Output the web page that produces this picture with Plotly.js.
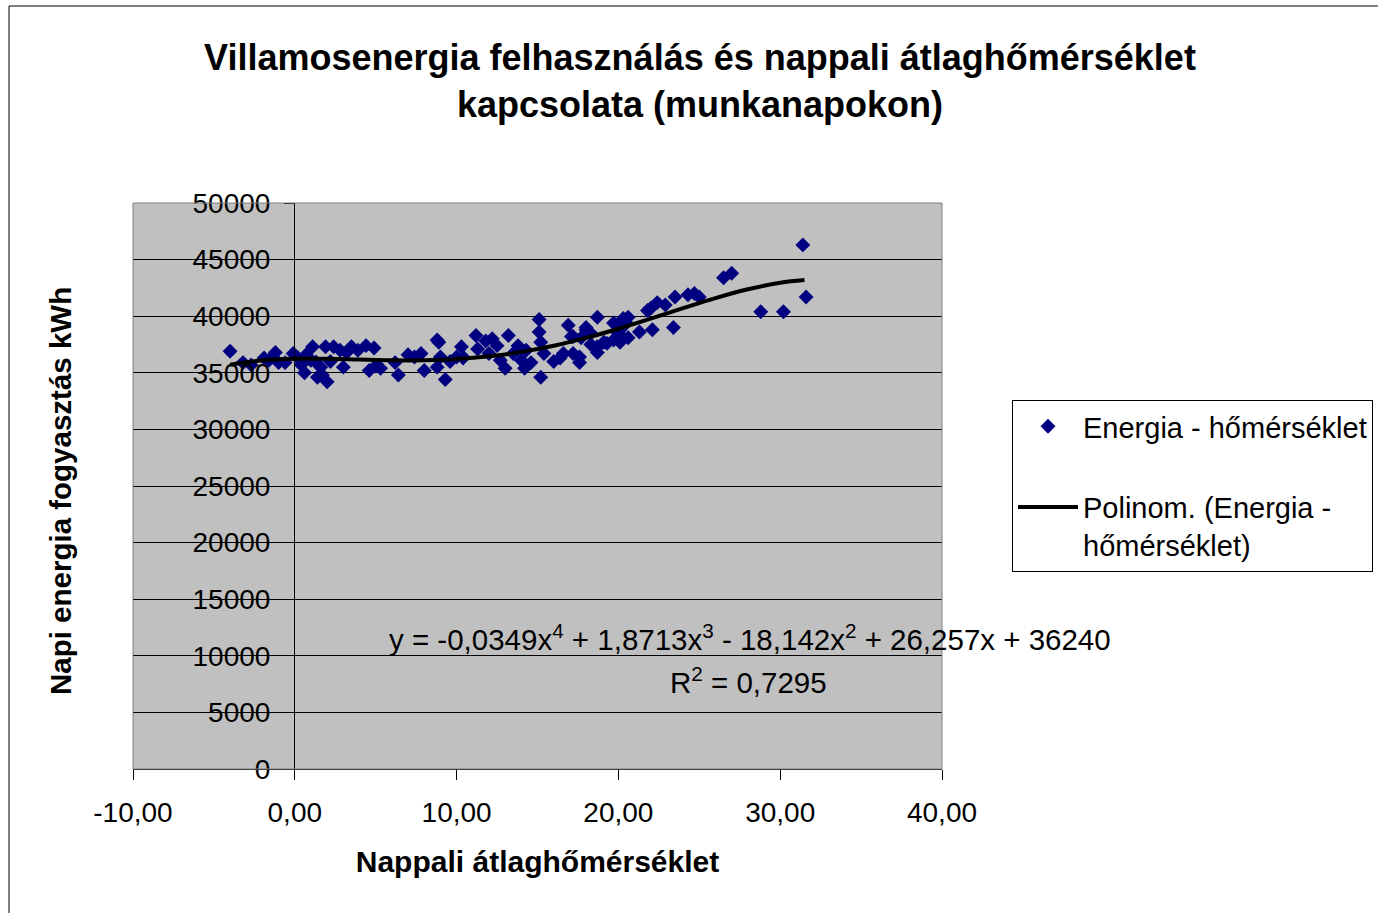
<!DOCTYPE html>
<html>
<head>
<meta charset="utf-8">
<script src="https://cdn.plot.ly/plotly-3.0.1.min.js"></script>
<style>
html,body{margin:0;padding:0;background:#fff;}
#chart{width:1378px;height:913px;}
</style>
</head>
<body>
<div id="chart"></div>
<script>
// Daily mean temperature (°C) for each working day
const temperature = [
  -4.0, -3.2, -1.9, -1.2, -1.0, -0.1, -0.6, 0.6, 1.1, 1.0, 1.4, 1.6, 2.0, 1.9, 2.4, 2.8, 3.0, 3.5, 3.9, 4.4,
  4.9, 4.6, 5.3, 6.2, 6.4, 7.0, 7.4, 7.8, 8.0, 8.8, 9.0, 9.3, 8.8, 10.3, 10.4,
  0.4, 1.3, 0.7, 1.7, -1.6, -2.7, 0.2, 2.2, 3.2, 5.0, 12.0, 11.8, 9.6, 10.0,
  8.9, 10.4, 11.2, 11.3, 12.2, 12.5, 13.2, 12.7, 13.0, 13.5, 14.0, 14.2, 13.8,
  15.1, 15.1, 15.2, 15.2, 15.4, 16.0, 16.6, 16.9, 17.2, 17.6, 18.0, 18.3, 18.7, 18.7, 19.3, 19.7, 20.0,
  14.6, 17.2, 17.6, 18.0, 18.3, 18.7, 19.1, 19.7, 20.1, 20.5, 20.6, 17.1, 17.7, 14.3, 16.4,
  20.1, 21.3, 22.1, 22.0, 22.4, 22.9, 23.5, 23.4, 24.3, 24.7, 25.0, 20.6, 20.3, 21.8,
  26.5, 27.0, 28.8, 30.2, 31.4, 31.6
];
// Daily electricity consumption (kWh)
const energy = [
  36900, 35900, 36300, 36800, 35900, 36700, 35900, 35000, 37300, 36100, 34600, 35500, 34200, 37300, 37300, 37000, 35500, 37300, 37000, 37400,
  37200, 35200, 35400, 35900, 34800, 36600, 36400, 36700, 35200, 37900, 36400, 34400, 35500, 37300, 36400,
  35700, 35950, 36600, 34800, 36100, 35700, 36300, 36000, 36800, 35600, 36700, 37800, 36000, 36400,
  37700, 36300, 38300, 37100, 38000, 37400, 38300, 36100, 35400, 36700, 36100, 35400, 37400,
  39700, 38600, 37700, 34600, 36700, 36000, 36700, 39200, 38200, 36400, 39000, 38500, 39900, 37300, 37600, 39400, 38500,
  35900, 36700, 35900, 38800, 37500, 36800, 37700, 37900, 37700, 39400, 38100, 38200, 38100, 37000, 36300,
  38800, 38600, 38800, 40700, 41200, 41000, 41700, 39000, 41900, 42000, 41700, 39900, 39800, 40500,
  43400, 43800, 40400, 40400, 46300, 41700
];
// Polynomial trend line
const trendX = [-4, -2, 0, 2, 4, 6, 8, 10, 12, 14, 16, 18, 20, 22, 24, 26, 28, 30, 31.5];
const trendY = [35716, 36099, 36240, 36234, 36166, 36103, 36104, 36211, 36452, 36846, 37393, 38084, 38895, 39787, 40710, 41600, 42379, 42956, 43194];

const xTickVals = [-10, 0, 10, 20, 30, 40];
const xTickText = ['-10,00', '0,00', '10,00', '20,00', '30,00', '40,00'];
const yTickVals = [0, 5000, 10000, 15000, 20000, 25000, 30000, 35000, 40000, 45000, 50000];
const yTickText = ['0', '5000', '10000', '15000', '20000', '25000', '30000', '35000', '40000', '45000', '50000'];

const FONT = 'Liberation Sans, Arial, sans-serif';

const traces = [
  {
    type: 'scatter', mode: 'markers', name: 'Energia - hőmérséklet',
    x: temperature, y: energy, legendgroup: 'a',
    marker: {symbol: 'diamond', size: 11.5, color: '#000080'},
    cliponaxis: false, hoverinfo: 'x+y'
  },
  {
    type: 'scatter', mode: 'lines', name: 'Polinom. (Energia -<br>hőmérséklet)',
    x: trendX, y: trendY, legendgroup: 'b',
    line: {color: '#000000', width: 4, shape: 'spline'},
    hoverinfo: 'skip'
  }
];

const PL = 133, PR = 942, PT = 203, PB = 769;
const paperW = PR - PL, paperH = PB - PT;
const px2x = p => (p - PL) / paperW;
const py2y = p => (PB - p) / paperH;

const layout = {
  width: 1378, height: 913,
  margin: {l: PL, r: 1378 - PR, t: PT, b: 913 - PB, pad: 0, autoexpand: false},
  paper_bgcolor: '#ffffff',
  plot_bgcolor: '#c0c0c0',
  font: {family: FONT, size: 28, color: '#000'},
  showlegend: true,
  title: {
    text: 'Villamosenergia felhasználás és nappali átlaghőmérséklet<br>kapcsolata (munkanapokon)',
    font: {family: FONT, size: 36, color: '#000', weight: 'bold'},
    x: 700 / 1378, xanchor: 'center', xref: 'container',
    y: 1 - 70 / 913, yanchor: 'middle', yref: 'container'
  },
  xaxis: {
    range: [-10, 40], tickvals: xTickVals, ticktext: xTickText,
    showgrid: false, zeroline: false,
    showline: true, linecolor: '#000', linewidth: 1,
    ticks: 'outside', ticklen: 10, tickcolor: '#000', tickwidth: 1,
    ticklabelstandoff: 8,
    tickfont: {family: FONT, size: 28, color: '#000'},
    title: {text: 'Nappali átlaghőmérséklet', font: {family: FONT, size: 30, color: '#000', weight: 'bold'}, standoff: 24},
    fixedrange: true
  },
  yaxis: {
    range: [0, 50000], tickvals: yTickVals, ticktext: yTickText,
    anchor: 'free', position: px2x(294), side: 'left',
    showgrid: true, gridcolor: '#000', gridwidth: 1, zeroline: false,
    showline: true, linecolor: '#000', linewidth: 1,
    ticks: 'outside', ticklen: 10, tickcolor: '#000', tickwidth: 1,
    ticklabelstandoff: 8,
    tickfont: {family: FONT, size: 28, color: '#000'},
    fixedrange: true
  },
  legend: {
    x: px2x(1012), xanchor: 'left', y: py2y(400), yanchor: 'top',
    bgcolor: '#ffffff', bordercolor: '#000', borderwidth: 1,
    font: {family: FONT, size: 29, color: '#000'},
    tracegroupgap: 40, itemwidth: 60, traceorder: 'grouped', valign: 'top'
  },
  annotations: [
    {
      xref: 'paper', yref: 'paper', x: px2x(60), y: py2y(491),
      text: 'Napi energia fogyasztás kWh', textangle: -90, showarrow: false,
      font: {family: FONT, size: 29.5, color: '#000', weight: 'bold'},
      xanchor: 'center', yanchor: 'middle'
    },
    {
      xref: 'paper', yref: 'paper', x: px2x(750), y: py2y(637),
      text: 'y = -0,0349x<sup>4</sup> + 1,8713x<sup>3</sup> - 18,142x<sup>2</sup> + 26,257x + 36240',
      showarrow: false, font: {family: FONT, size: 29.5, color: '#000'},
      xanchor: 'center', yanchor: 'middle'
    },
    {
      xref: 'paper', yref: 'paper', x: px2x(829), y: py2y(680),
      text: 'R<sup>2</sup> = 0,7295',
      showarrow: false, font: {family: FONT, size: 29.5, color: '#000'},
      xanchor: 'right', yanchor: 'middle'
    }
  ],
  shapes: [
    {type: 'rect', xref: 'paper', yref: 'paper', x0: 0, x1: 1, y0: 0, y1: 1,
     line: {color: '#808080', width: 1}, layer: 'above'},
    {type: 'rect', xref: 'paper', yref: 'paper', x0: px2x(9), x1: px2x(1400), y0: py2y(930), y1: py2y(6),
     line: {color: '#000', width: 1}, layer: 'below'}
  ]
};

Plotly.newPlot('chart', traces, layout, {displayModeBar: false, staticPlot: true});
</script>
</body>
</html>
